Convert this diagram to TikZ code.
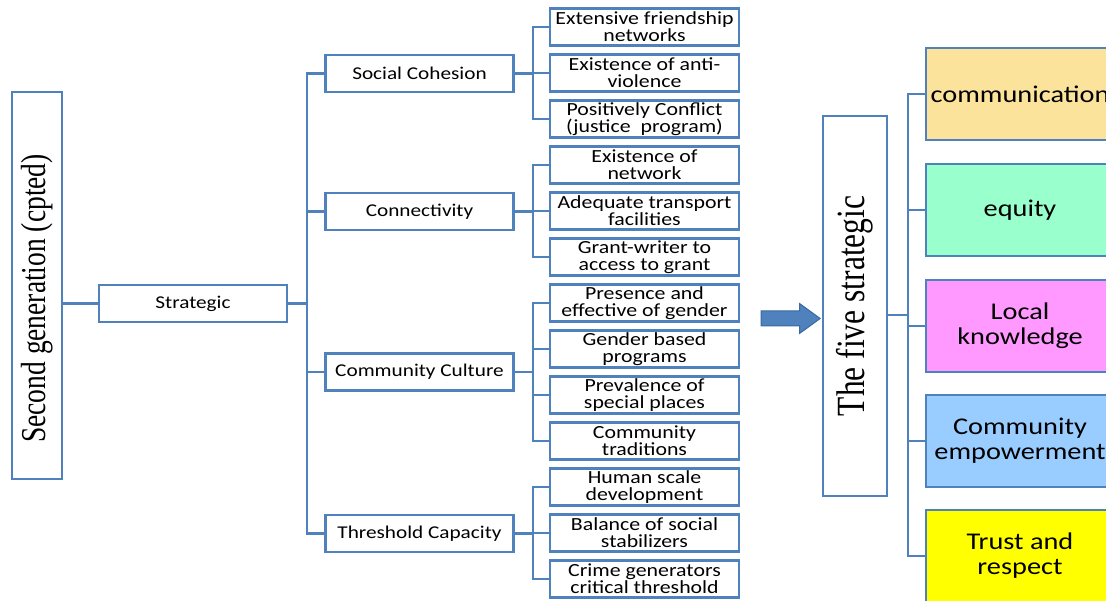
\documentclass[tikz,border=0pt]{standalone}
\usepackage{fontspec}
\usepackage{graphicx}
\usetikzlibrary{shapes.arrows}
\newfontfamily\boxfont[FakeStretch=1.18]{Carlito}
\newfontfamily\titlefont{Liberation Serif}
\definecolor{boxblue}{RGB}{79,129,189}
\definecolor{arrowedge}{RGB}{60,105,160}
\definecolor{commcol}{RGB}{252,227,156}
\definecolor{equitycol}{RGB}{153,255,204}
\definecolor{localcol}{RGB}{255,153,255}
\definecolor{empcol}{RGB}{153,204,255}
\definecolor{trustcol}{RGB}{255,255,0}
\tikzset{
  link/.style={draw=boxblue, line width=2.4pt},
  thinlink/.style={draw=boxblue, line width=2pt},
  titlebox/.style={draw=boxblue, line width=2.4pt, rotate=90, inner sep=0pt},
  midbox/.style={draw=boxblue, line width=2.4pt, minimum width=188pt, minimum height=37pt, inner sep=0pt, font=\boxfont\fontsize{18}{17}\selectfont},
  leafbox/.style={midbox, minimum width=189pt, align=center, font=\boxfont\fontsize{18.5}{17}\selectfont},
  goalbox/.style={draw=boxblue, line width=1.8pt, minimum width=188pt, minimum height=92pt, inner sep=0pt, align=center, font=\boxfont\fontsize{24}{25}\selectfont},
  bigarrow/.style={single arrow, draw=arrowedge, line width=1pt, fill=boxblue, minimum height=59pt, inner xsep=0pt, inner ysep=7pt, single arrow head extend=7.5pt, single arrow tip angle=72}
}

\begin{document}
\begin{tikzpicture}[x=1pt, y=-1pt]
		%%%%% START %%%%%
		\useasboundingbox (0, 0) rectangle (1106, 601);
		\clip (0, 0) rectangle (1106, 601);
		
		\node[titlebox, minimum width=387pt, minimum height=50pt] (gen) at (37, 285.5) {\scalebox{1}[1.27]{\titlefont\fontsize{27.5}{30}\selectfont Second generation (cpted)\hspace*{26pt}}};
		\node[midbox] (strat) at (193, 303.5) {Strategic};
		
		\node[midbox] (soc) at (419.5, 73.5) {Social Cohesion};
		\node[midbox] (conn) at (419.5, 211.5) {Connectivity};
		\node[midbox] (cult) at (419.5, 372) {Community Culture};
		\node[midbox] (thr) at (419.5, 533.5) {Threshold Capacity};
		
		\node[leafbox] (friend) at (644.5, 27) {Extensive friendship\\networks};
		\node[leafbox] (antiv) at (644.5, 73) {Existence of anti-\\violence};
		\node[leafbox] (confl) at (644.5, 119) {Positively Conflict\\(justice\ \ program)};
		\node[leafbox] (netw) at (644.5, 165) {Existence of\\network};
		\node[leafbox] (transp) at (644.5, 211) {Adequate transport\\facilities};
		\node[leafbox] (grant) at (644.5, 257) {Grant-writer to\\access to grant};
		\node[leafbox] (presence) at (644.5, 303) {Presence and\\effective of gender};
		\node[leafbox] (genderprog) at (644.5, 349) {Gender based\\programs};
		\node[leafbox] (places) at (644.5, 395) {Prevalence of\\special places};
		\node[leafbox] (trad) at (644.5, 441) {Community\\traditions};
		\node[leafbox] (human) at (644.5, 487) {Human scale\\development};
		\node[leafbox] (balance) at (644.5, 533) {Balance of social\\stabilizers};
		\node[leafbox] (crime) at (644.5, 579) {Crime generators\\critical threshold};
		
		\draw[link] (gen.south |- strat.west) -- (strat.west);
		\draw[link] (strat.east) -- ++(19, 0) |- (soc.west);
		\draw[link] (strat.east) -- ++(19, 0) |- (conn.west);
		\draw[link] (strat.east) -- ++(19, 0) |- (cult.west);
		\draw[link] (strat.east) -- ++(19, 0) |- (thr.west);
		
		\draw[link] (soc.east) -- ++(18, 0) |- (friend.west);
		\draw[link] (soc.east) -- ++(18, 0) |- (antiv.west);
		\draw[link] (soc.east) -- ++(18, 0) |- (confl.west);
		\draw[link] (conn.east) -- ++(18, 0) |- (netw.west);
		\draw[link] (conn.east) -- ++(18, 0) |- (transp.west);
		\draw[link] (conn.east) -- ++(18, 0) |- (grant.west);
		\draw[link] (cult.east) -- ++(18, 0) |- (presence.west);
		\draw[link] (cult.east) -- ++(18, 0) |- (genderprog.west);
		\draw[link] (cult.east) -- ++(18, 0) |- (places.west);
		\draw[link] (cult.east) -- ++(18, 0) |- (trad.west);
		\draw[link] (thr.east) -- ++(18, 0) |- (human.west);
		\draw[link] (thr.east) -- ++(18, 0) |- (balance.west);
		\draw[link] (thr.east) -- ++(18, 0) |- (crime.west);
		
		\node[bigarrow] (arr) at (785.5, 318.5) {};
		
		\node[titlebox, line width=2pt, minimum width=380pt, minimum height=64pt] (five) at (855, 306) {\scalebox{1}[1.27]{\titlefont\fontsize{31.5}{34}\selectfont The five strategic}};
		
		\node[goalbox, fill=commcol] (comm) at (1020, 94) {communication};
		\node[goalbox, fill=equitycol] (equity) at (1020, 210) {equity};
		\node[goalbox, fill=localcol] (local) at (1020, 326) {Local\\knowledge};
		\node[goalbox, fill=empcol] (empow) at (1020, 441) {Community\\empowerment};
		\node[goalbox, fill=trustcol] (trust) at (1020, 556) {Trust and\\respect};
		
		\draw[thinlink] ([yshift=-9pt]five.south) -- ++(20, 0) |- (comm.west);
		\draw[thinlink] ([yshift=-9pt]five.south) -- ++(20, 0) |- (equity.west);
		\draw[thinlink] ([yshift=-9pt]five.south) -- ++(20, 0) |- (local.west);
		\draw[thinlink] ([yshift=-9pt]five.south) -- ++(20, 0) |- (empow.west);
		\draw[thinlink] ([yshift=-9pt]five.south) -- ++(20, 0) |- (trust.west);
		%%%%% END %%%%%
\end{tikzpicture}
\end{document}
